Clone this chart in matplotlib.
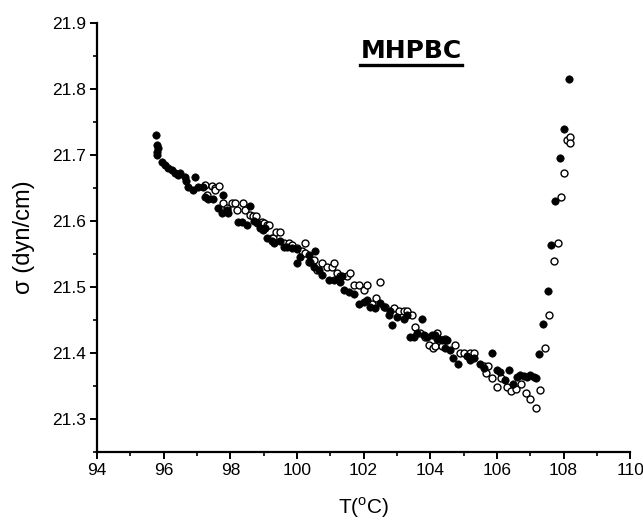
# coding=utf-8
import numpy as np
import matplotlib
matplotlib.use('Agg')
import matplotlib.pyplot as plt
from matplotlib.ticker import MultipleLocator
from matplotlib.lines import Line2D

# filled circles
tFilled = [95.78, 95.80, 95.82, 95.79, 95.81, 95.94, 96.04, 96.14, 96.24, 96.34,
           96.44, 96.49, 96.64, 96.67, 96.74, 96.89, 96.94, 97.04, 97.19, 97.24,
           97.34, 97.49, 97.79, 97.64, 97.74, 97.89, 97.94, 98.24, 98.34, 98.49,
           98.60, 98.70, 98.80, 98.89, 98.99, 99.05, 99.09, 99.24, 99.30, 99.50,
           99.60, 99.70, 99.85, 100.0, 100.0, 100.1, 100.35, 100.4, 100.5, 100.55,
           100.65, 100.75, 100.95, 101.1, 101.25, 101.3, 101.35, 101.4, 101.55, 101.7,
           101.85, 102.0, 102.1, 102.2, 102.35, 102.5, 102.6, 102.75, 102.8, 102.85,
           103.0, 103.2, 103.3, 103.4, 103.5, 103.6, 103.75, 103.8, 103.9, 104.05,
           104.15, 104.2, 104.25, 104.35, 104.45, 104.5, 104.6, 104.68, 104.82, 105.1,
           105.2, 105.3, 105.48, 105.6, 105.86, 106.0, 106.1, 106.25, 106.37, 106.48,
           106.6, 106.7, 106.8, 106.9, 107.0, 107.1, 107.18, 107.25, 107.39, 107.52,
           107.63, 107.75, 107.9, 108.02, 108.15]
sFilled = [21.73, 21.715, 21.71, 21.705, 21.70, 21.69, 21.685, 21.68, 21.677, 21.672,
           21.67, 21.672, 21.667, 21.66, 21.652, 21.647, 21.667, 21.652, 21.652, 21.637,
           21.634, 21.634, 21.639, 21.619, 21.612, 21.617, 21.612, 21.599, 21.599, 21.594,
           21.622, 21.60, 21.597, 21.589, 21.586, 21.59, 21.574, 21.569, 21.566, 21.569,
           21.561, 21.561, 21.559, 21.557, 21.536, 21.546, 21.548, 21.538, 21.531, 21.554,
           21.526, 21.518, 21.511, 21.511, 21.513, 21.508, 21.516, 21.495, 21.493, 21.490,
           21.475, 21.478, 21.480, 21.47, 21.468, 21.476, 21.47, 21.458, 21.463, 21.443,
           21.455, 21.452, 21.457, 21.425, 21.425, 21.430, 21.452, 21.427, 21.425, 21.427,
           21.427, 21.422, 21.422, 21.420, 21.408, 21.420, 21.405, 21.393, 21.384, 21.395,
           21.39, 21.392, 21.384, 21.378, 21.40, 21.375, 21.372, 21.359, 21.375, 21.353,
           21.364, 21.366, 21.365, 21.364, 21.366, 21.363, 21.362, 21.398, 21.444, 21.494,
           21.563, 21.631, 21.695, 21.74, 21.815]

# open circles
tOpen = [97.24, 97.29, 97.44, 97.54, 97.54, 97.67, 97.79, 97.89, 98.04, 98.14,
         98.19, 98.39, 98.44, 98.59, 98.69, 98.77, 98.9, 98.94, 99.0, 99.09,
         99.15, 99.24, 99.27, 99.37, 99.5, 99.6, 99.75, 99.85, 100.0, 100.15,
         100.25, 100.25, 100.35, 100.5, 100.6, 100.75, 100.9, 101.05, 101.1, 101.2,
         101.3, 101.5, 101.6, 101.7, 101.85, 102.0, 102.1, 102.25, 102.38, 102.5,
         102.65, 102.9, 103.05, 103.2, 103.3, 103.45, 103.55, 103.7, 103.85, 103.95,
         104.08, 104.15, 104.2, 104.35, 104.45, 104.48, 104.75, 104.9, 105.0, 105.2,
         105.3, 105.62, 105.72, 105.66, 105.86, 106.0, 106.13, 106.3, 106.43, 106.58,
         106.72, 106.86, 107.0, 107.16, 107.29, 107.44, 107.57, 107.7, 107.82, 107.93,
         108.02, 108.1, 108.18, 108.2]
sOpen = [21.655, 21.64, 21.653, 21.65, 21.647, 21.653, 21.627, 21.619, 21.627, 21.627,
         21.617, 21.627, 21.617, 21.609, 21.607, 21.608, 21.597, 21.599, 21.597, 21.594,
         21.594, 21.574, 21.575, 21.584, 21.584, 21.566, 21.566, 21.564, 21.559, 21.554,
         21.566, 21.551, 21.538, 21.541, 21.526, 21.536, 21.531, 21.531, 21.536, 21.521,
         21.516, 21.516, 21.521, 21.503, 21.503, 21.495, 21.503, 21.475, 21.484, 21.508,
         21.47, 21.468, 21.463, 21.463, 21.463, 21.457, 21.44, 21.43, 21.425, 21.412,
         21.407, 21.41, 21.43, 21.41, 21.422, 21.42, 21.412, 21.40, 21.40, 21.40,
         21.40, 21.38, 21.38, 21.37, 21.362, 21.348, 21.362, 21.348, 21.343, 21.346,
         21.353, 21.339, 21.33, 21.316, 21.344, 21.407, 21.458, 21.54, 21.567, 21.636,
         21.672, 21.723, 21.728, 21.718]

xTicks = [94, 96, 98, 100, 102, 104, 106, 108, 110]
yTicks = [21.3, 21.4, 21.5, 21.6, 21.7, 21.8, 21.9]

plt.rcParams['font.family'] = ['Liberation Sans', 'DejaVu Sans']
plt.rcParams['mathtext.fontset'] = 'custom'
plt.rcParams['mathtext.rm'] = 'Liberation Sans'

fig = plt.figure(figsize=(6.43, 5.22), dpi=100)
ax = fig.add_axes([0.151, 0.134, 0.829, 0.822])

ax.plot(tOpen, sOpen, 'o', ms=5, mfc='white', mec='black', mew=1.0, ls='none')
ax.plot(tFilled, sFilled, 'o', ms=5.3, mfc='black', mec='black', mew=0.5, ls='none')

ax.set_xlim(94, 110)
ax.set_ylim(21.25, 21.9)
ax.set_xticks(xTicks)
ax.set_yticks(yTicks)
ax.xaxis.set_minor_locator(MultipleLocator(1))
ax.yaxis.set_minor_locator(MultipleLocator(0.05))
ax.set_xticklabels([str(v) for v in xTicks])
ax.set_yticklabels(['%.1f' % v for v in yTicks])

for side in ['top', 'right']:
    ax.spines[side].set_visible(False)
for side in ['left', 'bottom']:
    ax.spines[side].set_linewidth(1.6)
ax.tick_params(which='major', direction='out', length=5, width=1.4, labelsize=12.5, pad=3)
ax.tick_params(which='minor', direction='out', length=3, width=1.2)

ax.set_xlabel(r'T($^{\rm o}$C)', fontsize=15, labelpad=12)
ax.set_ylabel(u'σ (dyn/cm)', fontsize=17, labelpad=12)

title = ax.text(0.589, 0.935, 'MHPBC', transform=ax.transAxes, ha='center', va='center',
                fontsize=18, fontweight='bold', family='DejaVu Sans')

# underline under the title
fig.canvas.draw()
bb = title.get_window_extent()
x0, y0 = fig.transFigure.inverted().transform((bb.x0, bb.y0 - 2))
x1, y1 = fig.transFigure.inverted().transform((bb.x1, bb.y0 - 2))
fig.add_artist(Line2D([x0, x1], [y0, y1], color='black', lw=2.4, transform=fig.transFigure))

fig.savefig('out.png', dpi=100)
